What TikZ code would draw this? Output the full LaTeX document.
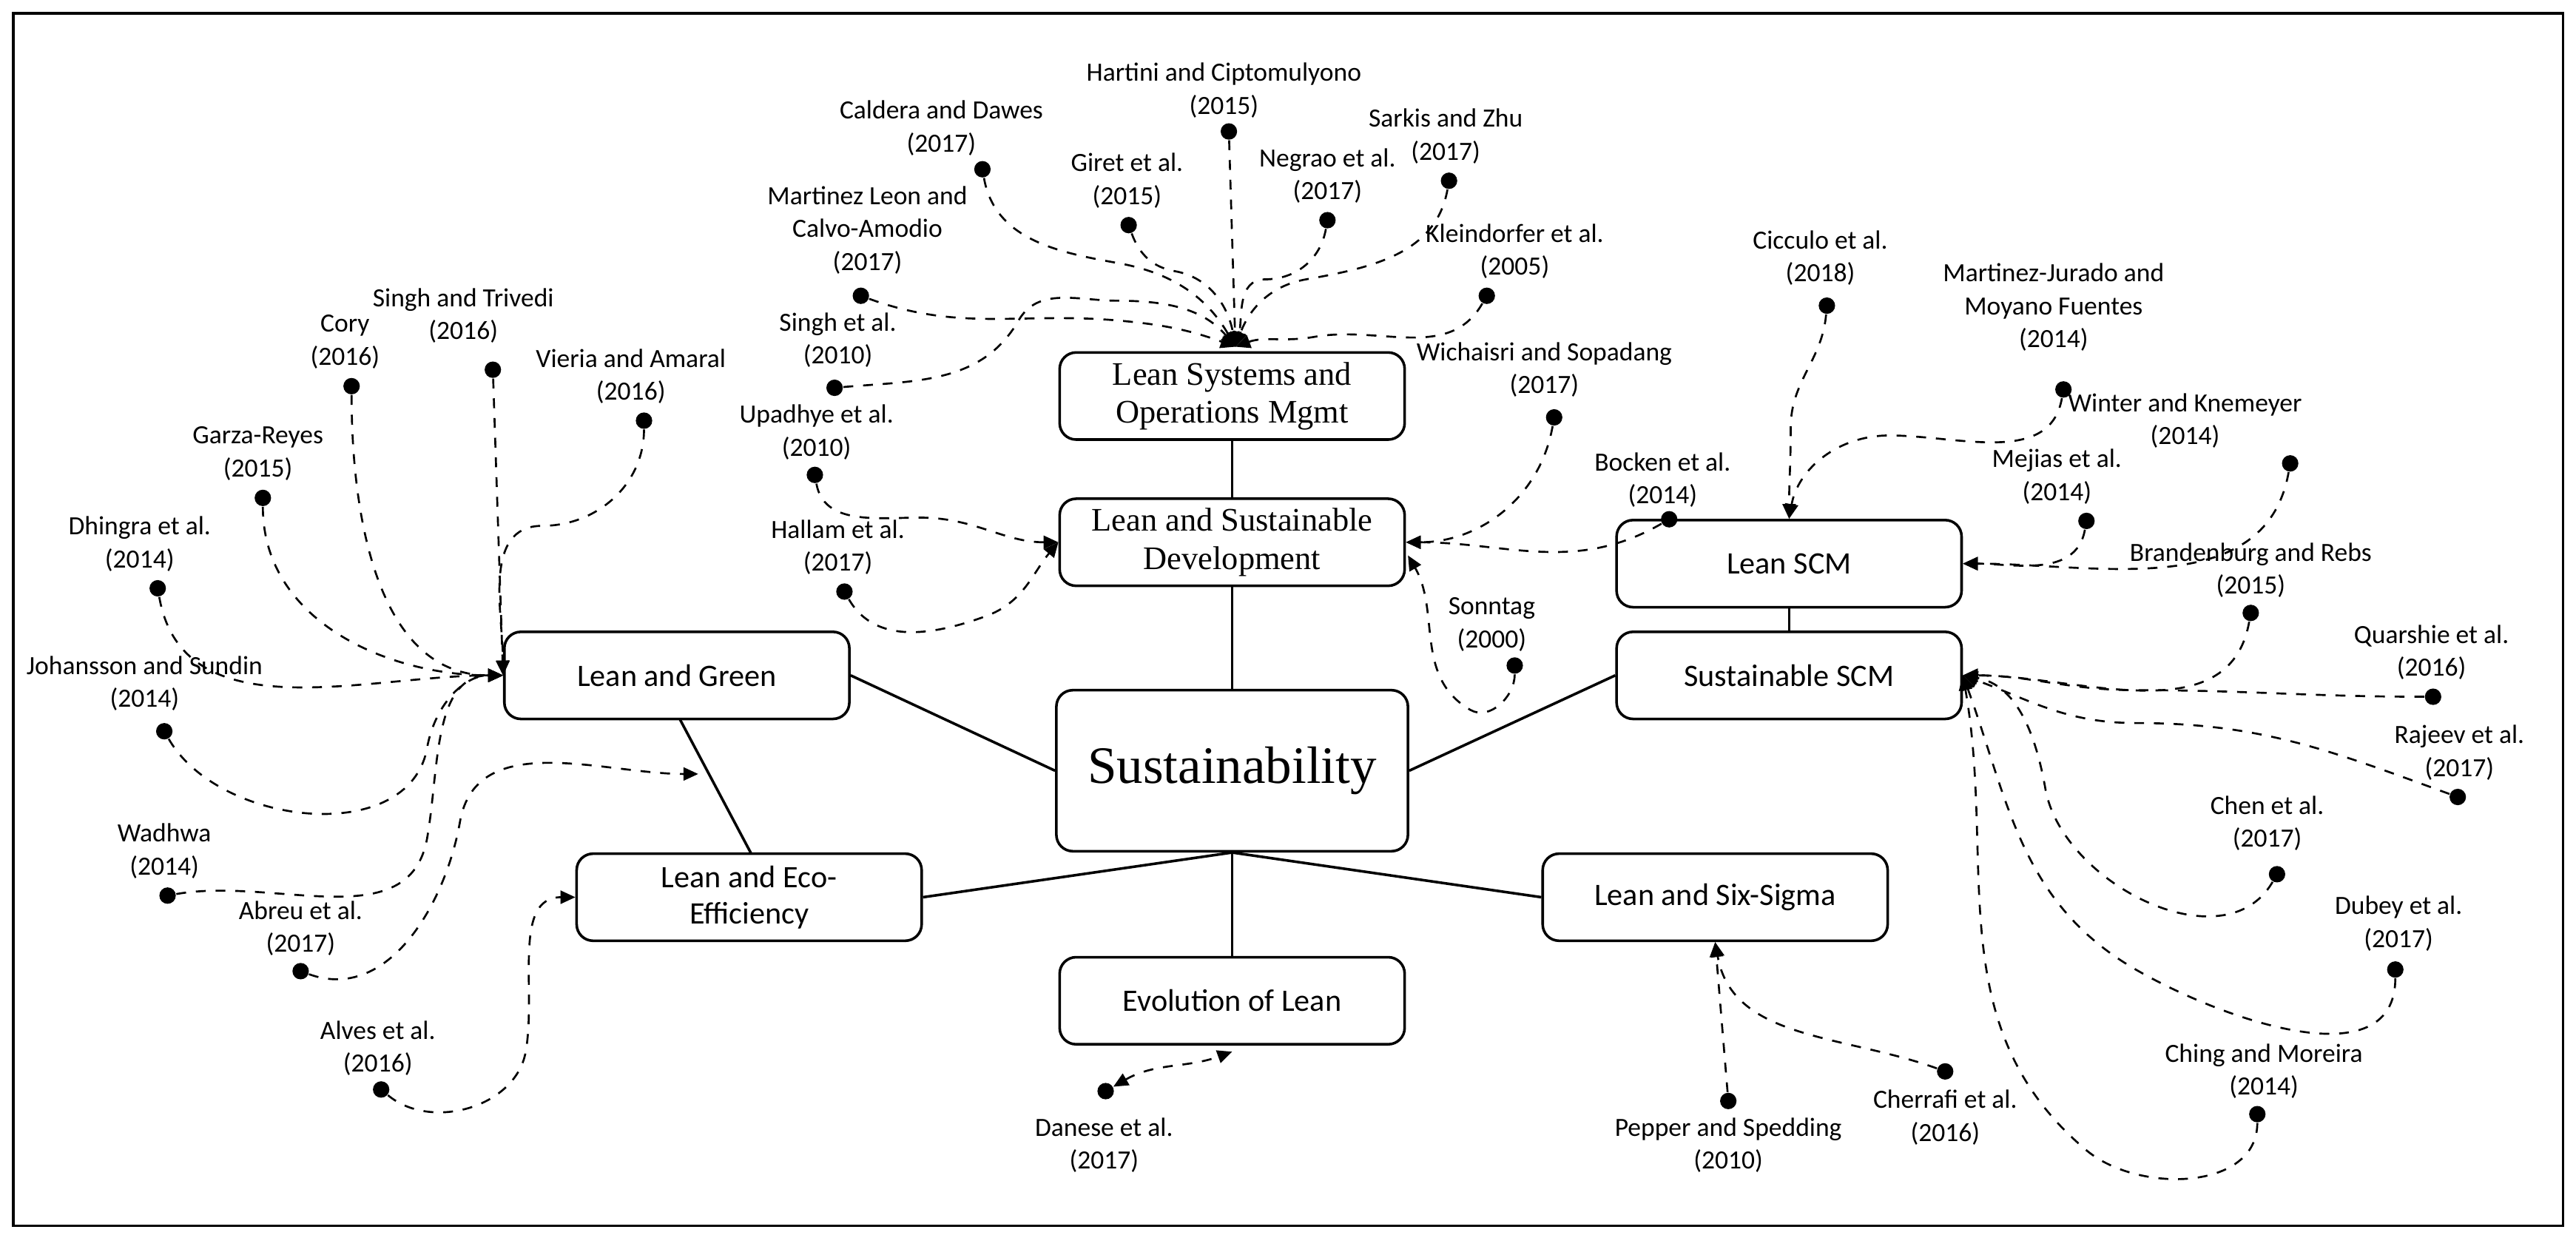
\documentclass[tikz,border=0pt]{standalone}
\usepackage{fontspec}
\setmainfont{Carlito}
\newfontfamily\serif{Liberation Serif}
\usetikzlibrary{arrows.meta}
\begin{document}
\begin{tikzpicture}[x=0.5pt,y=-0.5pt,
  box/.style={draw,thick,rounded corners=5pt,minimum width=105pt,minimum height=26.5pt,align=center,font=\fontsize{9.5}{11}\selectfont,inner sep=1pt},
  sbox/.style={box,font=\serif\fontsize{10}{11.5}\selectfont},
  dot/.style={circle,fill,inner sep=0pt,minimum size=5pt},
  lab/.style={align=center,font=\fontsize{8}{10}\selectfont,inner sep=0pt},
  ref/.style={dashed,semithick,-{Triangle[length=4.5pt,width=4pt]}},
  link/.style={thick}]
\useasboundingbox (0,0) rectangle (1568,753);
\draw[thick] (8,8) rectangle (1560,746);
% main boxes
\node[box,font=\serif\fontsize{16}{18}\selectfont,minimum width=107pt,minimum height=49pt] (S) at (750,469) {Sustainability};
\node[sbox] (LSOM) at (750,241) {Lean Systems and\\Operations Mgmt};
\node[sbox] (LSD) at (750,330) {Lean and Sustainable\\Development};
\node[box] (LSCM) at (1089,343) {Lean SCM};
\node[box] (SSCM) at (1089,411) {Sustainable SCM};
\node[box] (LG) at (412,411) {Lean and Green};
\node[box] (LE) at (456,546) {Lean and Eco-\\Efficiency};
\node[box] (L6) at (1044,546) {Lean and Six-Sigma};
\node[box] (EL) at (750,609) {Evolution of Lean};
\draw[link] (LSOM) -- (LSD);
\draw[link] (LSD) -- (S);
\draw[link] (LG.east) -- (S.west);
\draw[link] (LSCM) -- (SSCM);
\draw[link] (SSCM.west) -- (S.east);
\draw[link] (414,438) coordinate (lgb) -- (457,519) coordinate (let);
\draw[link] (S.south) -- (LE.east);
\draw[link] (S.south) -- (L6.west);
\draw[link] (S.south) -- (EL.north);
\coordinate (T) at (752,211);
\coordinate (G) at (425,471);
% citations: dot and label
\newcommand\cit[6]{\node[dot] (#1) at (#2,#3) {}; \node[lab] (#1l) at (#4,#5) {#6};}
\cit{cd}{598}{103}{573}{78}{Caldera and Dawes\\(2017)}
\cit{hc}{748}{80}{745}{55}{Hartini and Ciptomulyono\\(2015)}
\cit{gi}{687}{137}{686}{110}{Giret et al.\\(2015)}
\cit{ne}{808}{134}{808}{107}{Negrao et al.\\(2017)}
\cit{sz}{882}{110}{880}{83}{Sarkis and Zhu\\(2017)}
\cit{ml}{524}{180}{528}{140}{Martinez Leon and\\Calvo-Amodio\\(2017)}
\cit{kl}{905}{180}{922}{153}{Kleindorfer et al.\\(2005)}
\cit{si}{508}{236}{510}{207}{Singh et al.\\(2010)}
\cit{up}{496}{289}{497}{263}{Upadhye et al.\\(2010)}
\cit{ha}{514}{360}{510}{333}{Hallam et al.\\(2017)}
\cit{wi}{946}{254}{940}{225}{Wichaisri and Sopadang\\(2017)}
\cit{bo}{1016}{316}{1012}{292}{Bocken et al.\\(2014)}
\cit{so}{922}{405}{908}{380}{Sonntag\\(2000)}
\cit{ci}{1112}{186}{1108}{157}{Cicculo et al.\\(2018)}
\cit{mj}{1256}{237}{1250}{187}{Martinez-Jurado and\\Moyano Fuentes\\(2014)}
\cit{wk}{1394}{282}{1330}{256}{Winter and Knemeyer\\(2014)}
\cit{me}{1270}{317}{1252}{290}{Mejias et al.\\(2014)}
\cit{br}{1370}{373}{1370}{347}{Brandenburg and Rebs\\(2015)}
\cit{qu}{1481}{424}{1480}{397}{Quarshie et al.\\(2016)}
\cit{ra}{1496}{485}{1497}{458}{Rajeev et al.\\(2017)}
\cit{ch}{1386}{532}{1380}{501}{Chen et al.\\(2017)}
\cit{du}{1458}{590}{1460}{562}{Dubey et al.\\(2017)}
\cit{cm}{1374}{678}{1378}{652}{Ching and Moreira\\(2014)}
\cit{co}{214}{235}{210}{208}{Cory\\(2016)}
\cit{st}{300}{225}{282}{192}{Singh and Trivedi\\(2016)}
\cit{va}{392}{256}{384}{229}{Vieria and Amaral\\(2016)}
\cit{gr}{160}{303}{157}{276}{Garza-Reyes\\(2015)}
\cit{dh}{96}{358}{85}{331}{Dhingra et al.\\(2014)}
\cit{js}{100}{445}{88}{416}{Johansson and Sundin\\(2014)}
\cit{wa}{102}{545}{100}{518}{Wadhwa\\(2014)}
\cit{ab}{183}{591}{183}{565}{Abreu et al.\\(2017)}
\cit{al}{232}{663}{230}{638}{Alves et al.\\(2016)}
\node[dot] (da) at (673,664) {}; \node[lab] at (672,697) {Danese et al.\\(2017)};
\cit{ps}{1052}{670}{1052}{697}{Pepper and Spedding\\(2010)}
\cit{cf}{1184}{652}{1184}{680}{Cherrafi et al.\\(2016)}
% connectors: top
\draw[ref] (cd) to[out=-80,in=170] (680,160) to[out=-10,in=120] (T);
\draw[ref] (hc) -- (T);
\draw[ref] (gi) to[out=-70,in=170] (715,165) to[out=-10,in=100] (T);
\draw[ref] (ne) to[out=-100,in=0] (770,170) to[out=180,in=75] (T);
\draw[ref] (sz) to[out=-100,in=10] (795,170) to[out=190,in=70] (T);
\draw[ref] (ml) to[out=-20,in=175] (680,195) to[out=-5,in=160] (T);
\draw[ref] (kl) to[out=-120,in=10] (800,205) to[out=190,in=20] (T);
\draw[ref] (si) to[out=5,in=240] (620,195) to[out=60,in=180] (680,183) to[out=0,in=130] (T);
% LSD
\draw[ref] (up) to[out=-80,in=180] (560,315) to[out=0,in=180] (LSD.west);
\draw[ref] (ha) to[out=-60,in=200] (600,375) to[out=20,in=230] (LSD.west);
\draw[ref] (wi) to[out=-100,in=0] (LSD.east);
\draw[ref] (bo) to[out=-150,in=0] (LSD.east);
\draw[ref] (so) to[out=-90,in=-30] (895,432) to[out=150,in=-60] (857,338);
% Lean SCM
\draw[ref] (ci) to[out=-95,in=90] (1090,260) to[out=-90,in=90] (LSCM.north);
\draw[ref] (mj) to[out=-100,in=0] (1150,265) to[out=180,in=80] (LSCM.north);
\draw[ref] (wk) to[out=-100,in=0] (LSCM.east);
\draw[ref] (me) to[out=-100,in=0] (LSCM.east);
% Sustainable SCM
\draw[ref] (br) to[out=-100,in=0] (SSCM.east);
\draw[ref] (qu) to[out=180,in=0] (1300,420) to[out=180,in=0] (SSCM.east);
\draw[ref] (ra) to[out=160,in=0] (1300,440) to[out=180,in=-20] (SSCM.east);
\draw[ref] (ch) to[out=-120,in=-80] (1245,480) to[out=100,in=-10] (SSCM.east);
\draw[ref] (du) to[out=-90,in=-30] (1300,590) to[out=150,in=-70] (SSCM.east);
\draw[ref] (cm) to[out=-90,in=-40] (1270,700) to[out=140,in=-80] (SSCM.east);
% Lean and Green
\draw[ref] (co) to[out=-90,in=180] (LG.west);
\draw[ref] (st) -- (LG.west);
\draw[ref] (va) to[out=-90,in=0] (330,320) to[out=180,in=90] (LG.west);
\draw[ref] (gr) to[out=-90,in=180] (LG.west);
\draw[ref] (dh) to[out=-80,in=180] (LG.west);
\draw[ref] (js) to[out=-60,in=-100] (260,455) to[out=80,in=180] (LG.west);
\draw[ref] (wa) to[out=10,in=-100] (260,510) to[out=80,in=180] (LG.west);
\draw[ref] (ab) to[out=-20,in=-100] (280,500) to[out=80,in=180] (G);
\draw[ref] (al) to[out=-40,in=-100] (320,640) to[out=80,in=180] (LE.west);
% bottom
\draw[ref,{Triangle[length=4.5pt,width=4pt]}-{Triangle[length=4.5pt,width=4pt]}] (da) to[out=30,in=200] (750,640);
\draw[ref] (ps) -- (L6.south);
\draw[ref] (cf) to[out=160,in=-80] (L6.south);
\end{tikzpicture}
\end{document}
